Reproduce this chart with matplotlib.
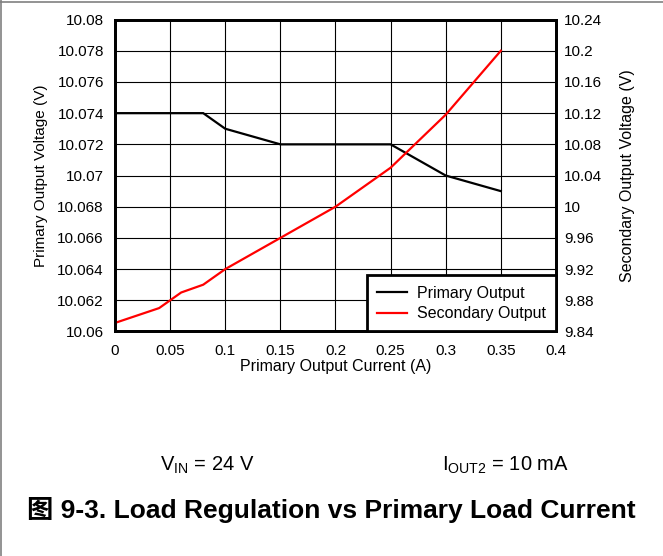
import matplotlib
matplotlib.use('Agg')
import matplotlib.pyplot as plt
from matplotlib.lines import Line2D

plt.rcParams['font.family'] = ['Liberation Sans', 'Noto Sans CJK SC', 'DejaVu Sans']

# 数据：一次侧输出电流 vs 输出电压
primary_x = [0, 0.08, 0.1, 0.15, 0.25, 0.3, 0.35]
primary_v = [10.074, 10.074, 10.073, 10.072, 10.072, 10.070, 10.069]

secondary_x = [0, 0.04, 0.05, 0.06, 0.08, 0.1, 0.15, 0.2, 0.25, 0.3, 0.35]
secondary_v = [9.851, 9.870, 9.880, 9.890, 9.900, 9.920, 9.960, 10.000, 10.050, 10.118, 10.200]

x_ticks = [0, 0.05, 0.1, 0.15, 0.2, 0.25, 0.3, 0.35, 0.4]
x_tick_labels = ['0', '0.05', '0.1', '0.15', '0.2', '0.25', '0.3', '0.35', '0.4']
y1_ticks = [10.06, 10.062, 10.064, 10.066, 10.068, 10.07, 10.072, 10.074, 10.076, 10.078, 10.08]
y1_tick_labels = ['10.06', '10.062', '10.064', '10.066', '10.068', '10.07',
                  '10.072', '10.074', '10.076', '10.078', '10.08']
y2_ticks = [9.84, 9.88, 9.92, 9.96, 10.0, 10.04, 10.08, 10.12, 10.16, 10.2, 10.24]
y2_tick_labels = ['9.84', '9.88', '9.92', '9.96', '10', '10.04', '10.08',
                  '10.12', '10.16', '10.2', '10.24']

fig = plt.figure(figsize=(6.63, 5.56), dpi=100)
ax1 = fig.add_axes([0.1735, 0.4038, 0.665, 0.561])
ax2 = ax1.twinx()

ax1.plot(primary_x, primary_v, color='black', lw=1.6, solid_joinstyle='miter')
ax2.plot(secondary_x, secondary_v, color='red', lw=1.6)

ax1.set_xlim(0, 0.4)
ax1.set_ylim(10.06, 10.08)
ax2.set_ylim(9.84, 10.24)
ax1.set_xticks(x_ticks)
ax1.set_xticklabels(x_tick_labels)
ax1.set_yticks(y1_ticks)
ax1.set_yticklabels(y1_tick_labels)
ax2.set_yticks(y2_ticks)
ax2.set_yticklabels(y2_tick_labels)

ax1.grid(True, color='black', lw=0.8)
ax1.set_axisbelow(True)
for ax in (ax1, ax2):
    ax.tick_params(length=0, labelsize=11, pad=8)
    for s in ax.spines.values():
        s.set_linewidth(2)
ax1.tick_params(axis='x', pad=9)
ax2.tick_params(axis='y', pad=6)

ax1.set_xlabel('Primary Output Current (A)', fontsize=11.5, labelpad=1)
ax1.set_ylabel('Primary Output Voltage (V)', fontsize=11, labelpad=7)
ax2.set_ylabel('Secondary Output Voltage (V)', fontsize=11.5, labelpad=12.5)

handles = [Line2D([], [], color='black', lw=1.6), Line2D([], [], color='red', lw=1.6)]
leg = ax2.legend(handles, ['Primary Output', 'Secondary Output'], loc='lower right',
                 fontsize=11.5, frameon=True, fancybox=False, borderaxespad=0,
                 handlelength=1.85, labelspacing=0.35, borderpad=0.65, handletextpad=0.6)
leg.get_frame().set_edgecolor('black')
leg.get_frame().set_linewidth(2)
leg.get_frame().set_alpha(1)

fig.text(0.313, 0.163, r'V$_{\mathregular{IN}}$ = 24 V', fontsize=14.5, ha='center', va='center')
fig.text(0.763, 0.163, r'I$_{\mathregular{OUT2}}$ = 10 mA', fontsize=14.5, ha='center', va='center')
fig.text(0.5, 0.083, '图 9-3. Load Regulation vs Primary Load Current', fontsize=19,
         fontweight='bold', ha='center', va='center')

# 外框（左、上）
fig.add_artist(Line2D([0.002, 0.002], [0, 1], transform=fig.transFigure, color='#808080', lw=1.2))
fig.add_artist(Line2D([0, 1], [0.997, 0.997], transform=fig.transFigure, color='#808080', lw=1.2))

fig.savefig('out.png', dpi=100)
